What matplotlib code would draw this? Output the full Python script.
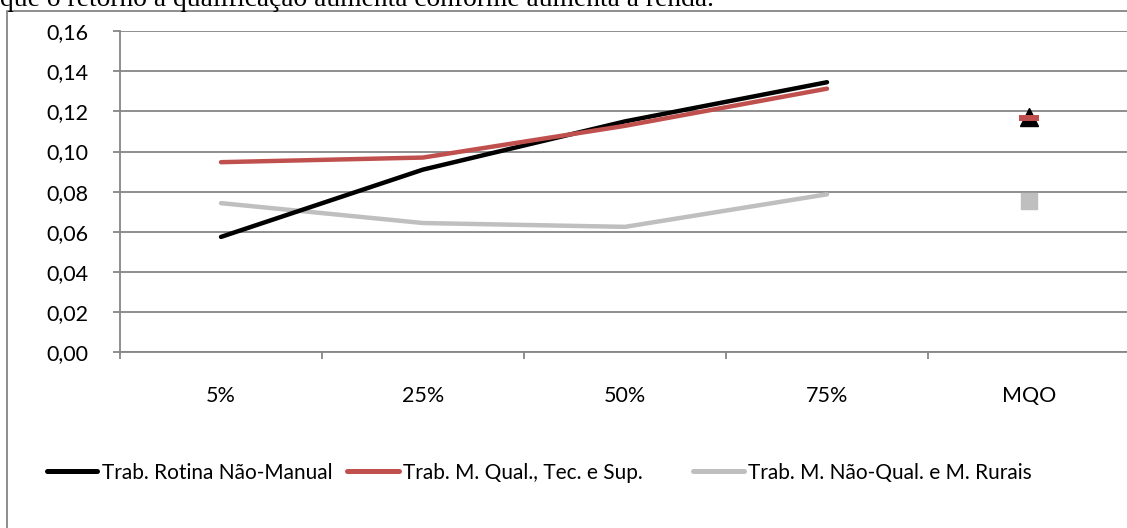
import matplotlib
matplotlib.use("Agg")
import matplotlib.pyplot as plt
from matplotlib.patches import Rectangle
from matplotlib.lines import Line2D

# Quantile regression estimates and OLS (MQO) estimates by occupational group
quantiles = ["5%", "25%", "50%", "75%"]
ols_label = "MQO"
categories = quantiles + [ols_label]

rotina_nao_manual = [0.0575, 0.091, 0.115, 0.1345]
m_qual_tec_sup = [0.0947, 0.0970, 0.1128, 0.1313]
m_nao_qual_rurais = [0.0743, 0.0644, 0.0625, 0.0787]

ols_rotina_nao_manual = 0.1172
ols_m_qual_tec_sup = 0.1168
ols_m_nao_qual_rurais = 0.0756

series_names = [
    "Trab. Rotina Não-Manual",
    "Trab. M. Qual., Tec. e Sup.",
    "Trab. M. Não-Qual. e M. Rurais",
]
y_ticks = [0.00, 0.02, 0.04, 0.06, 0.08, 0.10, 0.12, 0.14, 0.16]

BLACK = "#000000"
RED = "#C0504D"
GRAY = "#BFBFBF"
AXIS_GRAY = "#868686"
series_colors = [BLACK, RED, GRAY]

plt.rcParams["font.family"] = ["Lato", "DejaVu Sans"]

W, H = 1127, 528
fig = plt.figure(figsize=(W / 100, H / 100), dpi=100)

# closing line of the paragraph above the chart frame
fig.text(0.0, 1 - 6 / H, "que o retorno à qualificação aumenta conforme aumenta a renda.",
         family=["Liberation Serif"], fontsize=19.8, ha="left", va="baseline")

# chart frame
fig.patches.append(Rectangle((7 / W, -0.1), 1.2, 1 - 11 / H + 0.1,
                             transform=fig.transFigure, fill=False,
                             edgecolor=AXIS_GRAY, linewidth=1.3, clip_on=False))

left, right, top, bottom = 120, 1130, 31, 352.4
ax = fig.add_axes([left / W, 1 - bottom / H, (right - left) / W, (bottom - top) / H])
ax.set_facecolor("none")

x_q = list(range(len(quantiles)))
lw = 3.2
ax.plot(x_q, m_nao_qual_rurais, color=GRAY, lw=lw, solid_capstyle="round", zorder=3)
ax.plot(x_q, m_qual_tec_sup, color=RED, lw=lw, solid_capstyle="round", zorder=4)
ax.plot(x_q, rotina_nao_manual, color=BLACK, lw=lw, solid_capstyle="round", zorder=3.5)

x_ols = len(quantiles)
ax.plot([x_ols], [ols_rotina_nao_manual], marker="^", color=BLACK, markersize=13,
        linestyle="none", zorder=5)
ax.plot([x_ols], [ols_m_qual_tec_sup], marker="_", color=RED, markersize=15,
        markeredgewidth=4.3, linestyle="none", zorder=6)
ax.plot([x_ols], [ols_m_nao_qual_rurais], marker="s", color=GRAY, markersize=12.2,
        linestyle="none", zorder=5)

ax.set_xlim(-0.5, len(categories) - 0.5)
ax.set_ylim(y_ticks[0], y_ticks[-1])

ax.set_yticks(y_ticks)
ax.set_yticklabels([f"{v:.2f}".replace(".", ",") for v in y_ticks])
ax.yaxis.grid(True, color=AXIS_GRAY, linewidth=1.3)
ax.set_axisbelow(True)

ax.set_xticks([i - 0.5 for i in range(len(categories) + 1)])
ax.set_xticklabels([])
ax.set_xticks(range(len(categories)), minor=True)
ax.set_xticklabels(categories, minor=True)
ax.tick_params(axis="x", which="minor", length=0, pad=24, labelsize=15.5)
ax.tick_params(axis="x", which="major", length=5, width=1.3, color=AXIS_GRAY, direction="out")
ax.tick_params(axis="y", length=5, width=1.3, color=AXIS_GRAY, direction="out",
               pad=18, labelsize=15.5)

for side in ("top", "right"):
    ax.spines[side].set_visible(False)
for side in ("left", "bottom"):
    ax.spines[side].set_color(AXIS_GRAY)
    ax.spines[side].set_linewidth(1.3)

# legend row below the plot: a short line sample followed by the series name
legend_y = 1 - 471 / H
legend_slots = [(47, 97, 102), (347, 399, 403), (693, 744, 748)]
for (x0, x1, xt), name, color in zip(legend_slots, series_names, series_colors):
    fig.add_artist(Line2D([x0 / W, x1 / W], [legend_y, legend_y], transform=fig.transFigure,
                          color=color, lw=3.6, solid_capstyle="round"))
    fig.text(xt / W, legend_y, name, fontsize=15, ha="left", va="center_baseline")

fig.savefig("out.png", dpi=100)
